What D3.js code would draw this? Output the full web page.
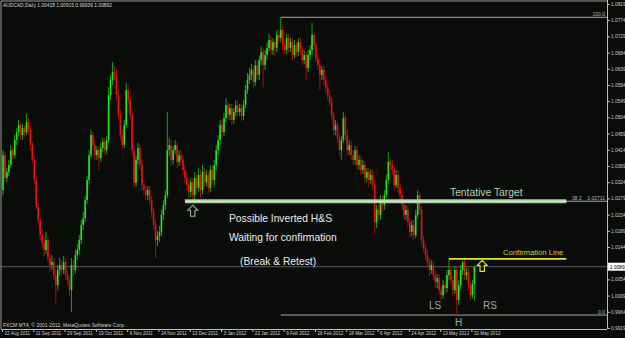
<!DOCTYPE html>
<html>
<head>
<meta charset="utf-8">
<script src="https://cdn.jsdelivr.net/npm/d3@7"></script>
<style>
body { margin: 0; background: #0a0c0a; overflow: hidden; }
svg { display: block; }
text { font-family: "Liberation Sans", Arial, sans-serif; }
</style>
</head>
<body>
<div id="graph"></div>
<script>
// AUDCAD daily candles, 22 Aug 2011 .. early Jun 2012
const open = [
    1.0302, 1.0399, 1.0336, 1.0352, 1.0372, 1.0413, 1.0399, 1.0441, 1.0463, 1.0483,
    1.0455, 1.0474, 1.0463, 1.0491, 1.0469, 1.0427, 1.0386, 1.0330, 1.0255, 1.0219,
    1.0177, 1.0155, 1.0136, 1.0163, 1.0113, 1.0094, 1.0102, 1.0066, 1.0038, 1.0080,
    1.0094, 1.0080, 1.0102, 1.0066, 1.0052, 1.0024, 1.0094, 1.0080, 1.0122, 1.0136,
    1.0163, 1.0205, 1.0224, 1.0274, 1.0330, 1.0399, 1.0455, 1.0427, 1.0399, 1.0413,
    1.0391, 1.0419, 1.0436, 1.0413, 1.0441, 1.0566, 1.0608, 1.0630, 1.0622, 1.0566,
    1.0511, 1.0455, 1.0427, 1.0483, 1.0580, 1.0552, 1.0511, 1.0413, 1.0322, 1.0386,
    1.0419, 1.0372, 1.0316, 1.0302, 1.0288, 1.0302, 1.0274, 1.0241, 1.0205, 1.0163,
    1.0174, 1.0185, 1.0233, 1.0260, 1.0288, 1.0413, 1.0427, 1.0386, 1.0413, 1.0427,
    1.0380, 1.0399, 1.0386, 1.0358, 1.0336, 1.0316, 1.0297, 1.0324, 1.0288, 1.0336,
    1.0308, 1.0344, 1.0302, 1.0352, 1.0324, 1.0344, 1.0308, 1.0358, 1.0330, 1.0372,
    1.0413, 1.0441, 1.0483, 1.0463, 1.0502, 1.0538, 1.0511, 1.0530, 1.0497, 1.0519,
    1.0538, 1.0519, 1.0530, 1.0508, 1.0538, 1.0580, 1.0608, 1.0622, 1.0636, 1.0602,
    1.0649, 1.0622, 1.0663, 1.0685, 1.0649, 1.0677, 1.0697, 1.0719, 1.0691, 1.0713,
    1.0697, 1.0733, 1.0724, 1.0747, 1.0705, 1.0691, 1.0724, 1.0697, 1.0713, 1.0677,
    1.0705, 1.0686, 1.0713, 1.0691, 1.0663, 1.0677, 1.0641, 1.0677, 1.0691, 1.0733,
    1.0705, 1.0669, 1.0649, 1.0622, 1.0636, 1.0608, 1.0586, 1.0566, 1.0547, 1.0511,
    1.0469, 1.0483, 1.0447, 1.0413, 1.0441, 1.0502, 1.0455, 1.0413, 1.0427, 1.0399,
    1.0386, 1.0413, 1.0372, 1.0386, 1.0358, 1.0372, 1.0336, 1.0352, 1.0330, 1.0344,
    1.0316, 1.0213, 1.0247, 1.0233, 1.0274, 1.0261, 1.0288, 1.0330, 1.0380, 1.0372,
    1.0358, 1.0316, 1.0344, 1.0308, 1.0288, 1.0261, 1.0233, 1.0247, 1.0213, 1.0186,
    1.0205, 1.0177, 1.0233, 1.0288, 1.0247, 1.0163, 1.0141, 1.0122, 1.0102, 1.0080,
    1.0094, 1.0066, 1.0047, 1.0058, 1.0024, 1.0010, 1.0038, 1.0030, 1.0066, 1.0080,
    1.0052, 1.0024, 1.0080, 0.9997, 1.0038, 1.0080, 1.0102, 1.0066, 1.0074, 1.0038,
    1.0010, 1.00418
]
const high = [
    1.0413, 1.0408, 1.0363, 1.0386, 1.0427, 1.0424, 1.0455, 1.0474, 1.0497, 1.0491,
    1.0486, 1.0483, 1.0516, 1.0502, 1.0480, 1.0436, 1.0394, 1.0338, 1.0266, 1.0227,
    1.0191, 1.0169, 1.0186, 1.0174, 1.0127, 1.0122, 1.0113, 1.0080, 1.0094, 1.0113,
    1.0108, 1.0119, 1.0113, 1.0080, 1.0063, 1.0113, 1.0108, 1.0136, 1.0152, 1.0177,
    1.0219, 1.0241, 1.0286, 1.0341, 1.0413, 1.0469, 1.0463, 1.0441, 1.0424, 1.0424,
    1.0433, 1.0447, 1.0447, 1.0452, 1.0588, 1.0622, 1.0658, 1.0647, 1.0636, 1.0580,
    1.0524, 1.0469, 1.0497, 1.0600, 1.0594, 1.0563, 1.0519, 1.0424, 1.0397, 1.0433,
    1.0427, 1.0386, 1.0330, 1.0313, 1.0313, 1.0313, 1.0286, 1.0252, 1.0219, 1.0188,
    1.0202, 1.0247, 1.0274, 1.0302, 1.0519, 1.0447, 1.0441, 1.0424, 1.0441, 1.0436,
    1.0413, 1.0413, 1.0399, 1.0372, 1.0352, 1.0330, 1.0336, 1.0336, 1.0352, 1.0347,
    1.0363, 1.0358, 1.0372, 1.0363, 1.0358, 1.0352, 1.0372, 1.0369, 1.0386, 1.0427,
    1.0455, 1.0497, 1.0497, 1.0516, 1.0558, 1.0549, 1.0541, 1.0541, 1.0530, 1.0552,
    1.0549, 1.0541, 1.0541, 1.0552, 1.0594, 1.0627, 1.0641, 1.0652, 1.0647, 1.0663,
    1.0663, 1.0677, 1.0702, 1.0697, 1.0691, 1.0713, 1.0736, 1.0730, 1.0724, 1.0724,
    1.0747, 1.0747, 1.0782, 1.0758, 1.0719, 1.0736, 1.0736, 1.0724, 1.0724, 1.0719,
    1.0713, 1.0724, 1.0724, 1.0702, 1.0691, 1.0686, 1.0691, 1.0705, 1.0766, 1.0741,
    1.0713, 1.0680, 1.0663, 1.0647, 1.0647, 1.0619, 1.0597, 1.0580, 1.0558, 1.0519,
    1.0497, 1.0491, 1.0458, 1.0452, 1.0519, 1.0511, 1.0469, 1.0441, 1.0438, 1.0413,
    1.0424, 1.0424, 1.0399, 1.0397, 1.0386, 1.0383, 1.0363, 1.0363, 1.0358, 1.0358,
    1.0330, 1.0261, 1.0261, 1.0288, 1.0286, 1.0302, 1.0344, 1.0408, 1.0394, 1.0386,
    1.0369, 1.0358, 1.0358, 1.0319, 1.0302, 1.0274, 1.0261, 1.0258, 1.0224, 1.0219,
    1.0219, 1.0247, 1.0302, 1.0297, 1.0258, 1.0174, 1.0152, 1.0136, 1.0113, 1.0108,
    1.0105, 1.0080, 1.0069, 1.0069, 1.0036, 1.0052, 1.0049, 1.0080, 1.0111, 1.0091,
    1.0063, 1.0091, 1.0091, 1.0052, 1.0094, 1.0105, 1.0111, 1.0086, 1.0086, 1.0049,
    1.0052, 1.00915
]
const low = [
    1.0288, 1.0324, 1.0324, 1.0341, 1.0363, 1.0386, 1.0391, 1.0427, 1.0452, 1.0441,
    1.0441, 1.0450, 1.0455, 1.0458, 1.0413, 1.0377, 1.0319, 1.0247, 1.0205, 1.0163,
    1.0141, 1.0119, 1.0124, 1.0100, 1.0074, 1.0080, 1.0052, 0.9988, 1.0024, 1.0066,
    1.0063, 1.0069, 1.0052, 1.0038, 1.0008, 0.9963, 1.0063, 1.0069, 1.0108, 1.0124,
    1.0152, 1.0191, 1.0213, 1.0263, 1.0319, 1.0391, 1.0413, 1.0386, 1.0386, 1.0358,
    1.0380, 1.0408, 1.0399, 1.0402, 1.0433, 1.0552, 1.0594, 1.0608, 1.0552, 1.0497,
    1.0441, 1.0413, 1.0419, 1.0474, 1.0538, 1.0497, 1.0399, 1.0311, 1.0311, 1.0374,
    1.0358, 1.0302, 1.0288, 1.0274, 1.0274, 1.0261, 1.0227, 1.0191, 1.0113, 1.0147,
    1.0158, 1.0174, 1.0219, 1.0247, 1.0280, 1.0397, 1.0369, 1.0374, 1.0402, 1.0363,
    1.0369, 1.0372, 1.0344, 1.0322, 1.0302, 1.0280, 1.0283, 1.0274, 1.0274, 1.0294,
    1.0297, 1.0283, 1.0291, 1.0311, 1.0313, 1.0294, 1.0297, 1.0316, 1.0311, 1.0358,
    1.0399, 1.0427, 1.0449, 1.0452, 1.0491, 1.0497, 1.0497, 1.0483, 1.0486, 1.0508,
    1.0505, 1.0508, 1.0494, 1.0497, 1.0530, 1.0569, 1.0597, 1.0608, 1.0586, 1.0591,
    1.0608, 1.0608, 1.0649, 1.0588, 1.0636, 1.0663, 1.0686, 1.0677, 1.0677, 1.0674,
    1.0686, 1.0711, 1.0713, 1.0691, 1.0677, 1.0680, 1.0683, 1.0686, 1.0663, 1.0669,
    1.0672, 1.0674, 1.0677, 1.0649, 1.0652, 1.0608, 1.0630, 1.0663, 1.0677, 1.0691,
    1.0658, 1.0636, 1.0580, 1.0608, 1.0594, 1.0574, 1.0552, 1.0536, 1.0497, 1.0455,
    1.0455, 1.0433, 1.0399, 1.0386, 1.0433, 1.0441, 1.0399, 1.0399, 1.0386, 1.0372,
    1.0372, 1.0358, 1.0358, 1.0344, 1.0347, 1.0322, 1.0324, 1.0311, 1.0319, 1.0302,
    1.0183, 1.0197, 1.0219, 1.0219, 1.0241, 1.0247, 1.0280, 1.0319, 1.0358, 1.0344,
    1.0302, 1.0308, 1.0294, 1.0274, 1.0247, 1.0219, 1.0219, 1.0197, 1.0169, 1.0174,
    1.0163, 1.0169, 1.0224, 1.0233, 1.0152, 1.0130, 1.0108, 1.0086, 1.0063, 1.0069,
    1.0052, 1.0030, 1.0030, 1.0010, 0.9997, 1.0002, 1.0013, 1.0019, 1.0052, 1.0038,
    1.0008, 1.0013, 0.9955, 0.9983, 1.0024, 1.0066, 1.0052, 1.0052, 1.0024, 0.9997,
    1.0002, 0.99939
]
const close = [
    1.0399, 1.0336, 1.0352, 1.0372, 1.0413, 1.0399, 1.0441, 1.0463, 1.0483, 1.0455,
    1.0474, 1.0463, 1.0491, 1.0469, 1.0427, 1.0386, 1.0330, 1.0255, 1.0219, 1.0177,
    1.0155, 1.0136, 1.0163, 1.0113, 1.0094, 1.0102, 1.0066, 1.0038, 1.0080, 1.0094,
    1.0080, 1.0102, 1.0066, 1.0052, 1.0024, 1.0094, 1.0080, 1.0122, 1.0136, 1.0163,
    1.0205, 1.0224, 1.0274, 1.0330, 1.0399, 1.0455, 1.0427, 1.0399, 1.0413, 1.0391,
    1.0419, 1.0436, 1.0413, 1.0441, 1.0566, 1.0608, 1.0630, 1.0622, 1.0566, 1.0511,
    1.0455, 1.0427, 1.0483, 1.0580, 1.0552, 1.0511, 1.0413, 1.0322, 1.0386, 1.0419,
    1.0372, 1.0316, 1.0302, 1.0288, 1.0302, 1.0274, 1.0241, 1.0205, 1.0163, 1.0174,
    1.0185, 1.0233, 1.0260, 1.0288, 1.0413, 1.0427, 1.0386, 1.0413, 1.0427, 1.0380,
    1.0399, 1.0386, 1.0358, 1.0336, 1.0316, 1.0297, 1.0324, 1.0288, 1.0336, 1.0308,
    1.0344, 1.0302, 1.0352, 1.0324, 1.0344, 1.0308, 1.0358, 1.0330, 1.0372, 1.0413,
    1.0441, 1.0483, 1.0463, 1.0502, 1.0538, 1.0511, 1.0530, 1.0497, 1.0519, 1.0538,
    1.0519, 1.0530, 1.0508, 1.0538, 1.0580, 1.0608, 1.0622, 1.0636, 1.0602, 1.0649,
    1.0622, 1.0663, 1.0685, 1.0649, 1.0677, 1.0697, 1.0719, 1.0691, 1.0713, 1.0697,
    1.0733, 1.0724, 1.0747, 1.0705, 1.0691, 1.0724, 1.0697, 1.0713, 1.0677, 1.0705,
    1.0686, 1.0713, 1.0691, 1.0663, 1.0677, 1.0641, 1.0677, 1.0691, 1.0733, 1.0705,
    1.0669, 1.0649, 1.0622, 1.0636, 1.0608, 1.0586, 1.0566, 1.0547, 1.0511, 1.0469,
    1.0483, 1.0447, 1.0413, 1.0441, 1.0502, 1.0455, 1.0413, 1.0427, 1.0399, 1.0386,
    1.0413, 1.0372, 1.0386, 1.0358, 1.0372, 1.0336, 1.0352, 1.0330, 1.0344, 1.0316,
    1.0213, 1.0247, 1.0233, 1.0274, 1.0261, 1.0288, 1.0330, 1.0380, 1.0372, 1.0358,
    1.0316, 1.0344, 1.0308, 1.0288, 1.0261, 1.0233, 1.0247, 1.0213, 1.0186, 1.0205,
    1.0177, 1.0233, 1.0288, 1.0247, 1.0163, 1.0141, 1.0122, 1.0102, 1.0080, 1.0094,
    1.0066, 1.0047, 1.0058, 1.0024, 1.0010, 1.0038, 1.0030, 1.0066, 1.0080, 1.0052,
    1.0024, 1.0080, 0.9997, 1.0038, 1.0080, 1.0102, 1.0066, 1.0074, 1.0038, 1.0010,
    1.00418, 1.00892
]

const dateLabels = ["22 Aug 2011", "11 Sep 2011", "29 Sep 2011", "19 Oct 2011", "6 Nov 2011",
    "24 Nov 2011", "13 Dec 2011", "3 Jan 2012", "22 Jan 2012", "9 Feb 2012", "28 Feb 2012",
    "18 Mar 2012", "6 Apr 2012", "24 Apr 2012", "13 May 2012", "31 May 2012"]
const barsPerDateLabel = 16
const priceTicks = [0.99190, 0.99640, 1.00090, 1.00540, 1.01440, 1.01890, 1.02340, 1.02790,
    1.03240, 1.03690, 1.04140, 1.04590, 1.05040, 1.05490, 1.05940, 1.06390, 1.06840,
    1.07290, 1.07740, 1.08190]

// drawn objects
const fibHigh = 1.0782, fibLow = 0.9955, fib382 = 1.02711
const fibFromBar = 142
const targetFromBar = 93, targetToBar = 288
const confirmPrice = 1.0111, confirmFromBar = 228, confirmToBar = 288
const lastPrice = 1.00892

const W = 625, H = 338
const plot = { left: 1, top: 1, right: 607, bottom: 329 }

const svg = d3.select("#graph")
    .append("svg")
    .attr("width", W)
    .attr("height", H)

svg.append("rect")
    .attr("width", W).attr("height", H)
    .attr("fill", "#0a0c0a")

const n = close.length
const x = d3.scaleLinear()
    .domain([0, n - 1])
    .range([3, 3 + 1.956 * (n - 1)])
const y = d3.scaleLinear()
    .domain([0.9919, 1.0830])
    .range([328, 0])

const bars = d3.range(n).map(i => ({ i: i, o: open[i], h: high[i], l: low[i], c: close[i] }))

// bid line
svg.append("line")
    .attr("x1", plot.left).attr("x2", plot.right)
    .attr("y1", y(lastPrice)).attr("y2", y(lastPrice))
    .attr("stroke", "#5c5c5c").attr("stroke-width", 1)

// fibo levels
const fib = [{ lv: "100.0", p: fibHigh }, { lv: "38.2", p: fib382 }, { lv: "0.0", p: fibLow }]
svg.selectAll(".fib")
    .data(fib)
    .enter()
    .append("line")
    .attr("class", "fib")
    .attr("x1", x(fibFromBar)).attr("x2", plot.right)
    .attr("y1", d => y(d.p)).attr("y2", d => y(d.p))
    .attr("stroke", "#a8a8a8").attr("stroke-width", 1)

svg.selectAll(".fibtxt")
    .data(fib.filter(d => d.lv !== "38.2"))
    .enter()
    .append("text")
    .attr("class", "fibtxt")
    .attr("x", plot.right - 2)
    .attr("y", d => y(d.p) - 1.5)
    .attr("text-anchor", "end")
    .attr("fill", "#b8b8b8")
    .attr("font-size", 5)
    .text(d => d.lv)

svg.append("text")
    .attr("x", 572).attr("y", y(fib382) - 1.5)
    .attr("fill", "#b8b8b8").attr("font-size", 5)
    .text("38.2")
svg.append("text")
    .attr("x", 605).attr("y", y(fib382) - 1.5)
    .attr("text-anchor", "end")
    .attr("fill", "#b8b8b8").attr("font-size", 5)
    .text(d3.format(".5f")(fib382))

// candles
const candles = svg.append("g")
candles.selectAll(".wick")
    .data(bars)
    .enter()
    .append("line")
    .attr("class", "wick")
    .attr("x1", d => x(d.i)).attr("x2", d => x(d.i))
    .attr("y1", d => y(d.h)).attr("y2", d => y(d.l))
    .attr("stroke", d => d.c >= d.o ? "#12a412" : "#a01010")
    .attr("stroke-width", 1)

candles.selectAll(".body")
    .data(bars)
    .enter()
    .append("rect")
    .attr("class", "body")
    .attr("x", d => x(d.i) - 0.8)
    .attr("width", 1.6)
    .attr("y", d => y(Math.max(d.o, d.c)))
    .attr("height", d => Math.max(1, Math.abs(y(d.o) - y(d.c))))
    .attr("fill", d => d.c >= d.o ? "#1ee81e" : "#ea1010")

// tentative target (thick pale green)
svg.append("line")
    .attr("x1", x(targetFromBar)).attr("x2", x(targetToBar))
    .attr("y1", y(fib382)).attr("y2", y(fib382))
    .attr("stroke", "#a9cfa2").attr("stroke-width", 4)
svg.append("line")
    .attr("x1", x(targetFromBar)).attr("x2", x(targetToBar))
    .attr("y1", y(fib382)).attr("y2", y(fib382))
    .attr("stroke", "#d8ecd2").attr("stroke-width", 1)

// confirmation line
svg.append("line")
    .attr("x1", x(confirmFromBar)).attr("x2", x(confirmToBar))
    .attr("y1", y(confirmPrice)).attr("y2", y(confirmPrice))
    .attr("stroke", "#e6e61a").attr("stroke-width", 1.6)

// up arrows (outline)
function upArrow(cx, top, color) {
    const pts = [[0, 0], [5, 5], [2.2, 5], [2.2, 11], [-2.2, 11], [-2.2, 5], [-5, 5]]
    svg.append("polygon")
        .attr("points", pts.map(p => (cx + p[0]) + "," + (top + p[1])).join(" "))
        .attr("fill", "none")
        .attr("stroke", color)
        .attr("stroke-width", 1.1)
}
upArrow(x(97), y(fib382) + 4, "#9fb09c")
upArrow(x(245), y(confirmPrice) + 1.5, "#e8e81c")

// annotations
const notes = [
    { t: "Tentative Target", x: 450, y: 195.5, c: "#b4d2ae", s: 10.3 },
    { t: "Possible Inverted H&S", x: 229, y: 221.5, c: "#ececec", s: 10.3 },
    { t: "Waiting for confirmation", x: 229, y: 241, c: "#ececec", s: 10.3 },
    { t: "(Break & Retest)", x: 240, y: 265, c: "#ececec", s: 10.3 },
    { t: "Confirmation Line", x: 503, y: 254.5, c: "#d6d41c", s: 7.7 },
    { t: "LS", x: 429, y: 309, c: "#a6a6a6", s: 10 },
    { t: "RS", x: 483, y: 309, c: "#a6a6a6", s: 10 },
    { t: "H", x: 455, y: 325.5, c: "#a6a6a6", s: 10 }
]
svg.selectAll(".note")
    .data(notes)
    .enter()
    .append("text")
    .attr("class", "note")
    .attr("x", d => d.x).attr("y", d => d.y)
    .attr("fill", d => d.c)
    .attr("font-size", d => d.s)
    .text(d => d.t)

// frame
svg.append("path")
    .attr("d", `M${plot.left},${plot.bottom}V${plot.top}H${plot.right}`)
    .attr("fill", "none").attr("stroke", "#9a9a9a").attr("stroke-width", 1)

// price axis
const yAxis = d3.axisRight(y)
    .tickValues(priceTicks)
    .tickFormat(d3.format(".5f"))
    .tickSize(3)
    .tickPadding(1)
svg.append("g")
    .attr("transform", `translate(${plot.right},0)`)
    .call(yAxis)
    .call(g => g.select(".domain").attr("stroke", "#bdbdbd").attr("d", `M0.5,0V${plot.bottom}`))
    .call(g => g.selectAll(".tick line").attr("stroke", "#bdbdbd"))
    .call(g => g.selectAll(".tick text").attr("fill", "#d0d0d0").attr("font-size", 4.8)
        .attr("font-family", "Liberation Sans, Arial, sans-serif"))

// current price box
svg.append("rect")
    .attr("x", plot.right + 1).attr("y", y(lastPrice) - 4)
    .attr("width", 20).attr("height", 8)
    .attr("fill", "#ffffff")
svg.append("text")
    .attr("x", plot.right + 3).attr("y", y(lastPrice) + 1.8)
    .attr("fill", "#000").attr("font-size", 4.8)
    .text(d3.format(".5f")(lastPrice))

// date axis
const xAxis = d3.axisBottom(x)
    .tickValues(dateLabels.map((d, k) => k * barsPerDateLabel))
    .tickFormat((d, k) => dateLabels[k])
    .tickSize(3)
svg.append("g")
    .attr("transform", `translate(0,${plot.bottom})`)
    .call(xAxis)
    .call(g => g.select(".domain").attr("stroke", "#bdbdbd").attr("d", `M${plot.left},0.5H${plot.right}`))
    .call(g => g.selectAll(".tick line").attr("stroke", "#bdbdbd").attr("transform", "translate(-1,0)"))
    .call(g => g.selectAll(".tick text").attr("fill", "#d0d0d0").attr("font-size", 4.6)
        .attr("text-anchor", "start").attr("dx", 1).attr("y", 2.5).attr("dy", "0.71em")
        .attr("font-family", "Liberation Sans, Arial, sans-serif"))

// header and copyright
svg.append("text")
    .attr("x", 3).attr("y", 7)
    .attr("fill", "#d4d4d4").attr("font-size", 4.9)
    .text("AUDCAD,Daily " + [open[n - 1], high[n - 1], low[n - 1], close[n - 1]].map(d3.format(".5f")).join(" "))
svg.append("text")
    .attr("x", 3).attr("y", 327)
    .attr("fill", "#d4d4d4").attr("font-size", 5)
    .text("FXCM MT4, © 2001-2012, MetaQuotes Software Corp.")
</script>
</body>
</html>
